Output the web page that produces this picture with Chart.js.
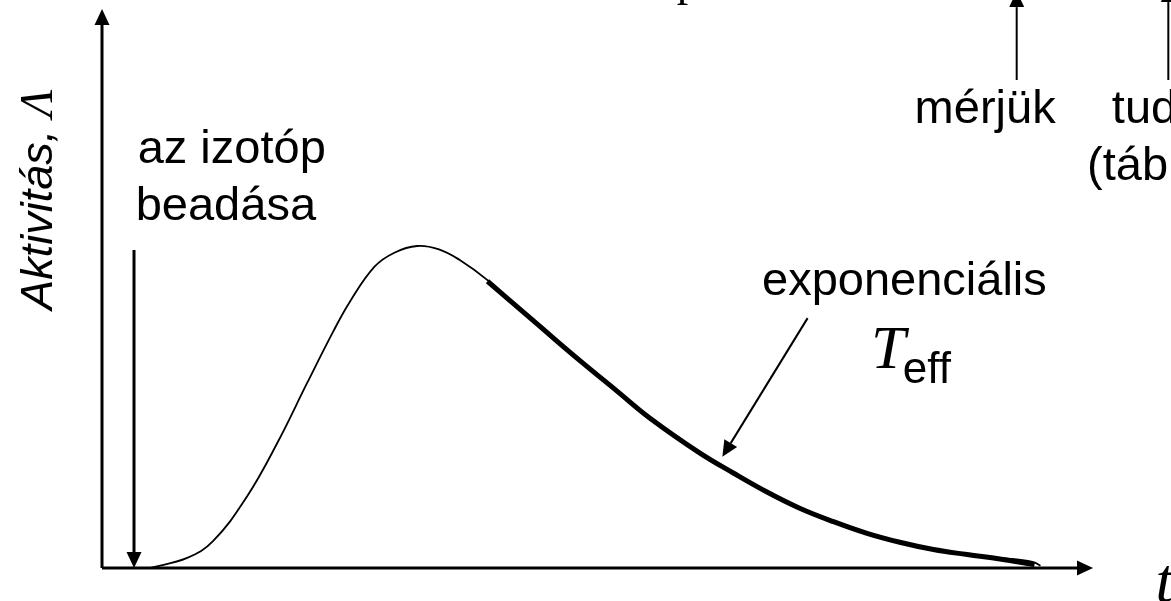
<!DOCTYPE html>
<html>
<head>
<meta charset="utf-8">
<script src="https://cdn.jsdelivr.net/npm/chart.js@4/dist/chart.umd.min.js"></script>
<style>
  html, body { margin: 0; padding: 0; background: #fff; }
  #wrap { width: 1171px; height: 601px; position: relative; }
</style>
</head>
<body>
<div id="wrap"><canvas id="chartContainer"></canvas></div>
<script>
"use strict";

// 1: data (time and activity, arbitrary units)
const timeThin = [4.8, 8.6, 11.2, 14.6, 17.7, 20.7, 23.3, 25.0, 27.5, 29.5, 31.8, 34.0, 36.1, 38.9, 42.9, 45.9, 48.5, 52.0, 55.3, 60.3, 63.7, 67.1, 70.4, 73.8, 77.2, 80.5, 83.9, 87.3, 90.6, 93.9, 94.7];
const activityThin = [0, 1.8, 4.8, 12.7, 22.4, 33.1, 42.2, 47.6, 53.9, 56.4, 57.6, 57.0, 55.1, 51.5, 45.2, 40.6, 36.7, 31.6, 26.8, 20.6, 17.0, 13.6, 10.7, 8.3, 6.2, 4.6, 3.3, 2.4, 1.8, 1.1, 0.4];

const timeFit = [38.9, 42.9, 45.9, 48.5, 52.0, 55.3, 60.3, 63.7, 67.1, 70.4, 73.8, 77.2, 80.5, 83.9, 87.3, 90.6, 94.1];
const activityFit = [51.3, 45.2, 40.6, 36.7, 31.6, 26.8, 20.6, 17.0, 13.6, 10.7, 8.3, 6.2, 4.6, 3.3, 2.4, 1.6, 0.6];

// 2: annotations (placed in data units)
const sans = '"Liberation Sans", Arial, sans-serif';
const serif = '"Liberation Serif", "Times New Roman", serif';
const notes = [
  { text: 'az izotóp', x: 3.6, y: 72.5, font: '47px ' + sans },
  { text: 'beadása', x: 3.4, y: 62.3, font: '47px ' + sans },
  { text: 'mérjük', x: 82.0, y: 79.6, font: '47px ' + sans },
  { text: 'tudjuk', x: 101.9, y: 79.6, font: '47px ' + sans },
  { text: '(táblázat)', x: 99.4, y: 69.4, font: '47px ' + sans },
  { text: 'exponenciális', x: 66.6, y: 48.8, font: '47px ' + sans },
  { text: 'T', x: 77.6, y: 35.8, font: 'italic 62px ' + serif },
  { text: 'eff', x: 80.8, y: 33.1, font: '44px ' + sans },
  { text: 'p', x: 58.0, y: 102.5, font: '46px ' + serif },
  { text: 't', x: 106.3, y: -6.0, font: 'italic 64px ' + serif }
];
const arrows = [
  { x1: 0, y1: 0, x2: 0, y2: 100, w: 3 },
  { x1: 0, y1: 0, x2: 100, y2: 0, w: 3 },
  { x1: 3.23, y1: 56.9, x2: 3.23, y2: 0, w: 3 },
  { x1: 71.2, y1: 44.7, x2: 62.6, y2: 19.9, w: 2 },
  { x1: 92.3, y1: 87.3, x2: 92.3, y2: 103.2, w: 2 },
  { x1: 107.6, y1: 87.3, x2: 107.6, y2: 104.1, w: 2 }
];

function toPoints(xs, ys) {
  return xs.map((x, i) => ({ x: x, y: ys[i] }));
}

function drawArrow(ctx, x1, y1, x2, y2, w) {
  const a = Math.atan2(y2 - y1, x2 - x1);
  const len = 16, half = 7.5;
  const bx = x2 - len * Math.cos(a), by = y2 - len * Math.sin(a);
  ctx.lineWidth = w;
  ctx.beginPath();
  ctx.moveTo(x1, y1);
  ctx.lineTo(bx, by);
  ctx.stroke();
  ctx.beginPath();
  ctx.moveTo(x2, y2);
  ctx.lineTo(bx + half * Math.sin(a), by - half * Math.cos(a));
  ctx.lineTo(bx - half * Math.sin(a), by + half * Math.cos(a));
  ctx.closePath();
  ctx.fill();
}

// 3: axes, arrows and texts
const sketch = {
  id: 'sketch',
  afterDatasetsDraw(chart) {
    const ctx = chart.ctx;
    const xs = chart.scales.x, ys = chart.scales.y;
    ctx.save();
    ctx.strokeStyle = '#000';
    ctx.fillStyle = '#000';
    ctx.lineCap = 'butt';
    for (const ar of arrows) {
      drawArrow(ctx, xs.getPixelForValue(ar.x1), ys.getPixelForValue(ar.y1),
        xs.getPixelForValue(ar.x2), ys.getPixelForValue(ar.y2), ar.w);
    }
    ctx.textBaseline = 'alphabetic';
    ctx.textAlign = 'left';
    for (const n of notes) {
      ctx.font = n.font;
      ctx.fillText(n.text, xs.getPixelForValue(n.x), ys.getPixelForValue(n.y));
    }
    // vertical axis title
    ctx.translate(xs.getPixelForValue(-5.0), ys.getPixelForValue(46.2));
    ctx.rotate(-Math.PI / 2);
    ctx.font = 'italic 45px ' + sans;
    const label = 'Aktivitás, ';
    ctx.fillText(label, 0, 0);
    const lw = ctx.measureText(label).width;
    ctx.font = 'italic 46px ' + serif;
    ctx.fillText('Λ', lw, 0);
    ctx.restore();
  }
};

new Chart(document.getElementById('chartContainer'), {
  type: 'scatter',
  data: {
    datasets: [{
      data: toPoints(timeThin, activityThin),
      showLine: true,
      borderColor: '#000',
      borderWidth: 1.8,
      pointRadius: 0,
      tension: 0.4,
      clip: false
    },
    {
      data: toPoints(timeFit, activityFit),
      showLine: true,
      borderColor: '#000',
      borderWidth: 5,
      pointRadius: 0,
      tension: 0.4,
      clip: false
    }]
  },
  options: {
    responsive: true,
    maintainAspectRatio: false,
    animation: false,
    layout: { padding: { left: 102, right: 78, top: 9, bottom: 33 } },
    plugins: { legend: { display: false }, tooltip: { enabled: false } },
    scales: {
      x: { type: 'linear', min: 0, max: 100, display: false },
      y: { type: 'linear', min: 0, max: 100, display: false }
    }
  },
  plugins: [sketch]
});
</script>
</body>
</html>
